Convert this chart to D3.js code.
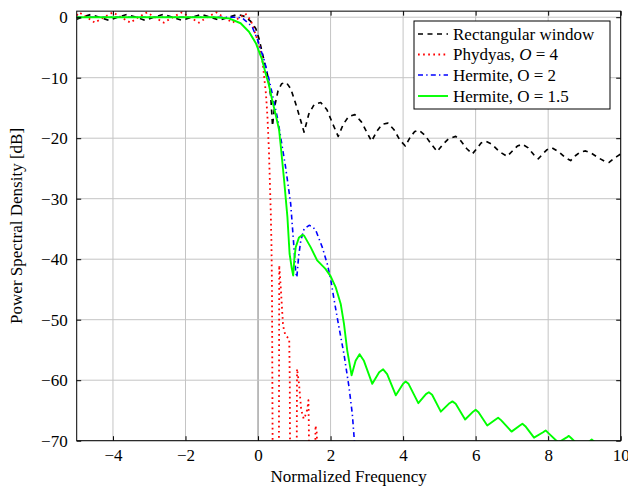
<!DOCTYPE html>
<html><head><meta charset="utf-8">
<script src="https://cdn.jsdelivr.net/npm/d3@7"></script>
<style>
body{margin:0;background:#fff}
svg{display:block}
text{font-family:"Liberation Serif","Times New Roman",serif;fill:#000}
</style>
</head><body>
<svg id="chart" width="628" height="487"></svg>
<script>
// ---------- data ----------
const xTickValues = [-4, -2, 0, 2, 4, 6, 8, 10];
const yTickValues = [0, -10, -20, -30, -40, -50, -60, -70];
const xLabel = "Normalized Frequency";
const yLabel = "Power Spectral Density [dB]";

// Rectangular window
const rectFreq = [-5,-4.85,-4.61,-4.37,-4.12,-3.87,-3.62,-3.37,-3.12,-2.87,-2.62,-2.36,-2.1,-1.83,-1.56,-1.31,-1.06,-0.81,-0.56,-0.35,-0.2,-0.06,0.03,0.12,0.26,0.35,0.40,0.45,0.55,0.65,0.78,0.9,1.05,1.27,1.4,1.55,1.73,1.9,2.05,2.21,2.35,2.5,2.67,2.85,3.0,3.13,3.28,3.42,3.58,3.75,3.9,4.06,4.2,4.32,4.44,4.6,4.78,4.94,5.1,5.25,5.45,5.6,5.75,5.91,6.05,6.15,6.28,6.45,6.65,6.87,7.0,7.15,7.29,7.45,7.6,7.73,7.85,7.97,8.11,8.3,8.47,8.62,8.75,8.88,9.03,9.2,9.4,9.55,9.68,9.8,9.9,10];
const rectPsd  = [-0.35,0,0.45,0,-0.5,0,0.45,0,-0.5,0,0.45,0,-0.5,0,0.45,0,-0.5,0,0.45,0.1,-0.7,-1.9,-3.6,-6.0,-9.5,-13,-18,-15,-12.2,-11,-10.8,-11.8,-14.5,-19,-16,-14.4,-14.1,-15.3,-17.5,-19.7,-17.7,-16.4,-16.1,-17.3,-19,-20.5,-18.8,-17.7,-17.5,-18.6,-20.2,-21.3,-19.8,-18.9,-18.7,-19.5,-21,-22.2,-21,-20.1,-19.7,-20.5,-21.7,-22.6,-21.6,-20.8,-20.5,-21,-22.2,-23.0,-22.2,-21.3,-21.0,-21.6,-22.7,-23.4,-22.6,-21.9,-21.6,-22.3,-23.2,-23.7,-22.9,-22.3,-22.1,-22.5,-23.3,-23.8,-24.0,-23.4,-23.0,-22.6];

// Phydyas, O = 4
const phydyasFreq = [-5,-4.93,-4.72,-4.5,-4.25,-4.0,-3.78,-3.52,-3.3,-3.06,-2.85,-2.6,-2.35,-2.1,-1.88,-1.63,-1.4,-1.15,-0.95,-0.7,-0.5,-0.35,-0.2,-0.06,0.03,0.12,0.17,0.22,0.26,0.30,0.33,0.35,0.37,0.385,0.395,0.405,0.45,0.55,0.575,0.585,0.63,0.69,0.75,0.86,0.875,0.885,0.95,1.03,1.065,1.075,1.13,1.19,1.26,1.30,1.36,1.39,1.40,1.41,1.47,1.53,1.575,1.585,1.62,1.64,1.7,10];
const phydyasPsd  = [0.3,0.8,0,-0.9,0,0.8,0,-0.9,0,0.8,0,-0.9,0,0.8,0,-0.9,0,0.8,0,-0.9,0,0.6,-0.5,-3,-4.4,-7.1,-9.9,-12.8,-16.5,-22,-28,-32,-37.5,-45,-60,-75,-100,-100,-75,-41,-45,-51,-52.5,-53.2,-60,-75,-100,-100,-75,-58.1,-60.6,-64.9,-66.4,-65.9,-64.8,-63.3,-67,-75,-100,-100,-75,-67.5,-68.8,-75,-100,-100];

// Hermite, O = 2
const herm2Freq = [-5,-0.6,-0.52,-0.4,-0.3,-0.16,-0.02,0.17,0.30,0.35,0.53,0.58,0.67,0.76,0.90,0.99,1.04,1.07,1.12,1.18,1.27,1.41,1.5,1.59,1.77,1.91,2.0,2.10,2.23,2.37,2.51,2.60,2.65,2.7,2.8];
const herm2Psd  = [0,0,-0.05,-0.3,-0.8,-1.6,-3.6,-7.1,-10.2,-11.5,-16.5,-18.2,-21.5,-24.8,-30.8,-38,-42.2,-43,-39.5,-36.9,-35,-34.4,-34.6,-35.2,-38,-40.8,-43.2,-46.8,-51.2,-55.7,-61.2,-65.6,-69.5,-73,-80];

// Hermite, O = 1.5
const herm15Freq = [-5,-1.2,-0.8,-0.48,-0.25,-0.06,0.1,0.21,0.3,0.39,0.49,0.58,0.63,0.72,0.81,0.87,0.93,0.97,1.0,1.04,1.13,1.22,1.27,1.45,1.63,1.86,2.0,2.14,2.28,2.37,2.46,2.58,2.69,2.80,2.92,3.15,3.34,3.45,3.56,3.80,4.0,4.07,4.15,4.42,4.63,4.71,4.8,5.04,5.28,5.36,5.45,5.71,5.93,6.0,6.08,6.32,6.55,6.62,6.7,6.99,7.22,7.29,7.37,7.61,7.86,7.93,8.0,8.28,8.5,8.57,8.64,8.88,9.0,9.12,9.2,9.28,9.4,9.7,10];
const herm15Psd  = [0,0,-0.2,-1.0,-2.4,-4.3,-6.8,-9.3,-11.2,-13.7,-16.2,-18.6,-21.5,-27,-33,-39.1,-41.5,-42.7,-40,-38,-36.4,-36.0,-36.1,-38,-40.2,-41.6,-42.8,-44.6,-47.4,-50.7,-55.1,-59.2,-56.8,-55.7,-56.8,-60.6,-58.7,-58.2,-59,-62.5,-60.6,-60.2,-60.6,-63.8,-62.3,-62.0,-62.4,-65.2,-63.8,-63.5,-63.9,-66.5,-65.2,-64.9,-65.3,-67.5,-66.5,-66.2,-66.6,-68.5,-67.5,-67.2,-67.6,-69.5,-68.6,-68.3,-68.7,-70.3,-69.5,-69.2,-69.6,-71,-71.2,-70.2,-69.8,-70.2,-71,-72,-72];

const legendLabels = ["Rectangular window", "Phydyas, O = 4", "Hermite, O = 2", "Hermite, O = 1.5"];

// ---------- layout ----------
const W = 628, H = 487;
const margin = {left: 76.7, right: 7.3, top: 11.15, bottom: 46.3};
const pw = W - margin.left - margin.right, ph = H - margin.top - margin.bottom;

const svg = d3.select("#chart");
const x = d3.scaleLinear().domain([-5, 10]).range([margin.left, margin.left + pw]);
const y = d3.scaleLinear().domain([-70, 1]).range([margin.top + ph, margin.top]);

svg.append("defs").append("clipPath").attr("id", "plotclip")
  .append("rect").attr("x", margin.left).attr("y", margin.top).attr("width", pw).attr("height", ph);

// grid
const grid = svg.append("g");
grid.selectAll("line.gx").data(xTickValues).join("line")
  .attr("x1", d => x(d)).attr("x2", d => x(d))
  .attr("y1", margin.top).attr("y2", margin.top + ph)
  .attr("stroke", d => d === 0 ? "#7a7a7a" : "#c4c4c4").attr("stroke-width", 1);
grid.selectAll("line.gy").data(yTickValues).join("line")
  .attr("x1", margin.left).attr("x2", margin.left + pw)
  .attr("y1", d => y(d)).attr("y2", d => y(d))
  .attr("stroke", "#c4c4c4").attr("stroke-width", 1);

// series
const series = [
  {fx: rectFreq, fy: rectPsd, color: "#000000", dash: "5,4.5", width: 1.65},
  {fx: phydyasFreq, fy: phydyasPsd, color: "#ff0000", dash: "1.7,3.4", width: 1.8},
  {fx: herm2Freq, fy: herm2Psd, color: "#0000ff", dash: "5,3.2,1.4,3.2", width: 1.6},
  {fx: herm15Freq, fy: herm15Psd, color: "#00ff00", dash: null, width: 1.9}
];
const line = d3.line().x(d => x(d[0])).y(d => y(d[1]));
const plot = svg.append("g").attr("clip-path", "url(#plotclip)");
series.forEach(s => {
  plot.append("path")
    .datum(s.fx.map((v, i) => [v, s.fy[i]]))
    .attr("d", line)
    .attr("fill", "none")
    .attr("stroke", s.color)
    .attr("stroke-width", s.width)
    .attr("stroke-dasharray", s.dash)
    .attr("stroke-linejoin", "round");
});

// axes (ticks inward on all sides)
const tl = 4.5;
const axB = d3.axisBottom(x).tickValues(xTickValues).tickSizeInner(-tl).tickSizeOuter(0)
  .tickFormat(d => d < 0 ? "\u2212" + Math.abs(d) : String(d)).tickPadding(8);
const axT = d3.axisTop(x).tickValues(xTickValues).tickSizeInner(-tl).tickSizeOuter(0).tickFormat("");
const axL = d3.axisLeft(y).tickValues(yTickValues).tickSizeInner(-tl).tickSizeOuter(0)
  .tickFormat(d => d < 0 ? "\u2212" + Math.abs(d) : String(d)).tickPadding(9);
const axR = d3.axisRight(y).tickValues(yTickValues).tickSizeInner(-tl).tickSizeOuter(0).tickFormat("");

function styleAxis(g) {
  g.select(".domain").remove();
  g.selectAll(".tick line").attr("stroke", "#000").attr("stroke-width", 1);
  g.selectAll(".tick text").attr("font-size", 17).attr("font-family", "Liberation Serif, serif").attr("fill", "#000");
}
svg.append("g").attr("transform", `translate(0,${margin.top + ph})`).call(axB).call(styleAxis);
svg.append("g").attr("transform", `translate(0,${margin.top})`).call(axT).call(styleAxis);
svg.append("g").attr("transform", `translate(${margin.left},0)`).call(axL).call(styleAxis);
svg.append("g").attr("transform", `translate(${margin.left + pw},0)`).call(axR).call(styleAxis);

// frame
svg.append("rect").attr("x", margin.left).attr("y", margin.top).attr("width", pw).attr("height", ph)
  .attr("fill", "none").attr("stroke", "#000").attr("stroke-width", 1);

// axis labels
svg.append("text").attr("x", margin.left + pw / 2).attr("y", 482).attr("text-anchor", "middle")
  .attr("font-size", 17).text(xLabel);
svg.append("text").attr("transform", `translate(22,${margin.top + ph / 2}) rotate(-90)`)
  .attr("text-anchor", "middle").attr("font-size", 17).text(yLabel);

// legend
const lg = svg.append("g");
const lx = 414, ly = 21, lw = 196, lh = 88;
lg.append("rect").attr("x", lx).attr("y", ly).attr("width", lw).attr("height", lh)
  .attr("fill", "#fff").attr("stroke", "#000").attr("stroke-width", 1);
const rowY = [34, 54.5, 75, 96];
legendLabels.forEach((lab, i) => {
  const s = series[i];
  lg.append("line").attr("x1", 418).attr("x2", 448).attr("y1", rowY[i]).attr("y2", rowY[i])
    .attr("stroke", s.color).attr("stroke-width", s.width).attr("stroke-dasharray", s.dash);
  const t = lg.append("text").attr("x", 453).attr("y", rowY[i] + 5.5).attr("font-size", 17);
  if (i === 1) {
    t.append("tspan").text("Phydyas, ");
    t.append("tspan").attr("font-style", "italic").text("O");
    t.append("tspan").text(" = 4");
  } else {
    t.text(lab);
  }
});
</script>
</body></html>
